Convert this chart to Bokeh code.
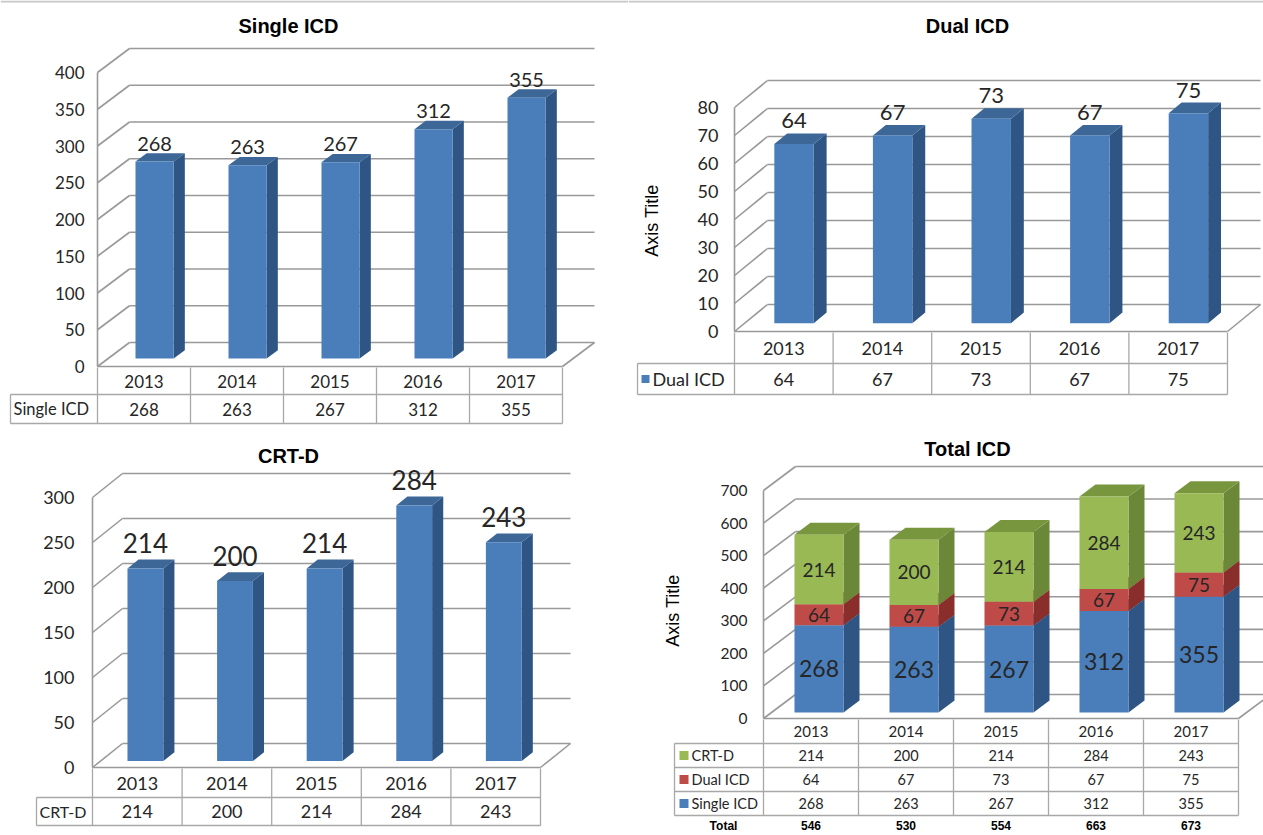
import math
from bokeh.plotting import figure
from bokeh.layouts import column, row
from bokeh.models import Range1d
from bokeh.core.properties import value
from bokeh.embed import file_html
from bokeh.resources import INLINE

# ---- data -------------------------------------------------------------
years = ["2013", "2014", "2015", "2016", "2017"]
single_icd = [268, 263, 267, 312, 355]
dual_icd = [64, 67, 73, 67, 75]
crt_d = [214, 200, 214, 284, 243]
total_icd = [s + d + c for s, d, c in zip(single_icd, dual_icd, crt_d)]

single_ticks = [0, 50, 100, 150, 200, 250, 300, 350, 400]
dual_ticks = [0, 10, 20, 30, 40, 50, 60, 70, 80]
crt_ticks = [0, 50, 100, 150, 200, 250, 300]
total_ticks = [0, 100, 200, 300, 400, 500, 600, 700]

# ---- styling ----------------------------------------------------------
BLUE = dict(front="#4A7EBB", side="#2E5583", top="#3C6797")
RED = dict(front="#BE4B48", side="#8A2E2C", top="#9A3A37")
GREEN = dict(front="#98B954", side="#6A8838", top="#78963E")
GRID = "#999999"
TABLE = "#A8A8A8"
INK = "#262626"
SANS = value("Lato")
ARIAL = value("Liberation Sans")


class Panel:
    """One 3-D column chart with its data table underneath.

    Page pixels are turned into data units: x in category steps, y in values.
    """

    def __init__(self, ox, oy, w, h, left, col_w, zero, ppu, dx, dy, n=5):
        self.ox, self.oy, self.w, self.h = ox, oy, w, h
        self.col_w, self.zero, self.ppu = col_w, zero, ppu
        self.col0 = left + col_w / 2.0
        self.n = n
        self.ddx = dx / col_w
        self.ddy = dy / ppu
        self.xl, self.xr = -0.5, n - 0.5
        self.p = figure(
            width=w, height=h,
            x_range=Range1d(self.X(ox), self.X(ox + w)),
            y_range=Range1d(self.Y(oy + h), self.Y(oy)),
            output_backend="svg", toolbar_location=None,
            x_axis_type=None, y_axis_type=None,
            min_border=0, outline_line_color=None,
            background_fill_color="white", border_fill_color="white",
        )
        self.p.xgrid.visible = False
        self.p.ygrid.visible = False

    def X(self, px):
        return (px - self.col0) / self.col_w

    def Y(self, py):
        return (self.zero - py) / self.ppu

    # -- walls, gridlines and floor
    def walls(self, ticks):
        p, xl, xr, ddx, ddy = self.p, self.xl, self.xr, self.ddx, self.ddy
        k = len(ticks)
        p.segment(x0=[xl + ddx] * k, y0=[t + ddy for t in ticks],
                  x1=[xr + ddx] * k, y1=[t + ddy for t in ticks],
                  line_color=GRID, line_width=1.6)
        p.segment(x0=[xl] * k, y0=ticks, x1=[xl + ddx] * k,
                  y1=[t + ddy for t in ticks], line_color=GRID, line_width=1.6)
        p.segment(x0=[xl], y0=[0], x1=[xl], y1=[ticks[-1]],
                  line_color=GRID, line_width=1.6)
        p.segment(x0=[xl, xr], y0=[0, 0], x1=[xr, xr + ddx], y1=[0, ddy],
                  line_color=GRID, line_width=1.6)

    def tick_labels(self, ticks, size, gap):
        self.p.text(x=[self.xl] * len(ticks), y=ticks, text=[str(t) for t in ticks],
                    x_offset=-gap, text_align="right", text_baseline="middle",
                    text_font=SANS, text_font_size=f"{size}px", text_color=INK)

    # -- 3-D columns: front face, side face and top face
    def columns(self, values, bases, colors, d0, d1, bw):
        ddx, ddy = self.ddx, self.ddy
        xs = list(range(len(values)))
        cx = [i + d0 * ddx for i in xs]
        lo = [b + d0 * ddy for b in bases]
        hi = [b + v + d0 * ddy for b, v in zip(bases, values)]
        sx = (d1 - d0) * ddx
        sy = (d1 - d0) * ddy
        side_x, side_y, top_x, top_y = [], [], [], []
        for c, a, b in zip(cx, lo, hi):
            r = c + bw / 2
            l = c - bw / 2
            side_x.append([r, r + sx, r + sx, r])
            side_y.append([a, a + sy, b + sy, b])
            top_x.append([l, r, r + sx, l + sx])
            top_y.append([b, b, b + sy, b + sy])
        self.p.patches(side_x, side_y, fill_color=colors["side"], line_color=None)
        self.p.patches(top_x, top_y, fill_color=colors["top"], line_color=None)
        self.p.vbar(x=cx, width=bw, bottom=lo, top=hi,
                    fill_color=colors["front"], line_color=None)
        return cx, lo, hi

    # -- data table below the floor
    def table(self, rows_px, label_left, labels, rows, label_size, val_size,
              head_size, keys=None, key_px=None, label_pad=4):
        p = self.p
        xl, xr = self.xl, self.xr
        ys = [self.Y(v) for v in rows_px]
        top, head, bottom = ys[0], ys[1], ys[-1]
        lx = self.X(label_left)
        edges = [xl + i for i in range(self.n + 1)]
        p.segment(x0=edges, y0=[top] * len(edges), x1=edges, y1=[bottom] * len(edges),
                  line_color=TABLE, line_width=1.3)
        p.segment(x0=[lx], y0=[head], x1=[lx], y1=[bottom],
                  line_color=TABLE, line_width=1.3)
        hy = ys[1:]
        p.segment(x0=[lx] * len(hy), y0=hy, x1=[xr] * len(hy), y1=hy,
                  line_color=TABLE, line_width=1.3)
        xs = list(range(self.n))
        p.text(x=xs, y=[(top + head) / 2] * self.n, text=years,
               text_align="center", text_baseline="middle", text_font=SANS,
               text_font_size=f"{head_size}px", text_color=INK)
        for r, (lab, vals) in enumerate(zip(labels, rows)):
            yc = (ys[r + 1] + ys[r + 2]) / 2
            p.text(x=xs, y=[yc] * self.n, text=[str(v) for v in vals],
                   text_align="center", text_baseline="middle", text_font=SANS,
                   text_font_size=f"{val_size}px", text_color=INK)
            tx = label_left + label_pad
            if keys is not None:
                k0, k1 = key_px
                half = (k1 - k0) / 2.0
                pyc = (rows_px[r + 1] + rows_px[r + 2]) / 2.0
                p.quad(left=[self.X(k0)], right=[self.X(k1)],
                       bottom=[self.Y(pyc + half)], top=[self.Y(pyc - half)],
                       fill_color=keys[r], line_color=None)
                tx = k1 + 3
            p.text(x=[self.X(tx)], y=[yc], text=[lab], text_align="left",
                   text_baseline="middle", text_font=SANS,
                   text_font_size=f"{label_size}px", text_color=INK)

    def title(self, txt, px, py, size=20):
        self.p.text(x=[self.X(px)], y=[self.Y(py)], text=[txt], text_align="center",
                    text_baseline="middle", text_font=ARIAL, text_font_style="bold",
                    text_font_size=f"{size}px", text_color="black")

    def axis_title(self, txt, px, py, size=18):
        self.p.text(x=[self.X(px)], y=[self.Y(py)], text=[txt], text_align="center",
                    text_baseline="middle", angle=math.pi / 2, text_font=ARIAL,
                    text_font_size=f"{size}px", text_color="black")

    def top_rule(self):
        self.p.segment(x0=[self.X(self.ox)], y0=[self.Y(1)],
                       x1=[self.X(self.ox + self.w)], y1=[self.Y(1)],
                       line_color="#C8C8C8", line_width=2)


def single_panel(pan, vals, ticks, colors, tick_size, tick_gap, lab_size, lab_gap,
                 d0, d1, bw):
    pan.walls(ticks)
    pan.tick_labels(ticks, tick_size, tick_gap)
    cx, lo, hi = pan.columns(vals, [0] * len(vals), colors, d0, d1, bw)
    pan.p.text(x=cx, y=hi, text=[str(v) for v in vals], y_offset=-lab_gap,
               text_align="center", text_baseline="middle", text_font=SANS,
               text_font_size=f"{lab_size}px", text_color=INK)


# ---- Single ICD -------------------------------------------------------
p1 = Panel(0, 0, 628, 430, left=97, col_w=93, zero=366, ppu=(366 - 72) / 400,
           dx=32, dy=24)
p1.top_rule()
single_panel(p1, single_icd, single_ticks, BLUE, 17, 13, 20, 18, 0.33, 0.68, 0.41)
p1.table([367, 394, 423], 10, ["Single ICD"], [single_icd], 16.5, 17, 17,
         label_pad=3)
p1.title("Single ICD", 288, 25)

# ---- Dual ICD ---------------------------------------------------------
p2 = Panel(628, 0, 635, 430, left=734, col_w=98.6, zero=331, ppu=2.8, dx=33, dy=27)
p2.top_rule()
single_panel(p2, dual_icd, dual_ticks, BLUE, 18, 16, 22, 23, 0.31, 0.70, 0.40)
p2.table([332, 363, 394], 637, ["Dual ICD"], [dual_icd], 18, 18, 18,
         keys=[BLUE["front"]], key_px=(641, 649))
p2.title("Dual ICD", 967, 25)
p2.axis_title("Axis Title", 651, 220)

# ---- CRT-D ------------------------------------------------------------
p3 = Panel(0, 430, 628, 405, left=92, col_w=89.6, zero=767, ppu=0.9, dx=30, dy=24)
single_panel(p3, crt_d, crt_ticks, BLUE, 18, 18, 26, 25, 0.27, 0.64, 0.40)
p3.table([768, 797, 825], 36, ["CRT-D"], [crt_d], 16, 18, 18, label_pad=3)
p3.title("CRT-D", 288, 455)

# ---- Total ICD (stacked) ----------------------------------------------
p4 = Panel(628, 430, 635, 405, left=763, col_w=95, zero=718, ppu=228 / 700,
           dx=32, dy=24)
p4.walls(total_ticks)
p4.tick_labels(total_ticks, 15.5, 16)
base = [0] * 5
stack = [(single_icd, BLUE, 23), (dual_icd, RED, 19), (crt_d, GREEN, 19)]
for vals, colors, size in stack:
    cx, lo, hi = p4.columns(vals, base, colors, 0.25, 0.75, 0.516)
    p4.p.text(x=cx, y=[(a + b) / 2 for a, b in zip(lo, hi)], text=[str(v) for v in vals],
              text_align="center", text_baseline="middle", text_font=SANS,
              text_font_size=f"{size}px", text_color=INK)
    base = [b + v for b, v in zip(base, vals)]
p4.table([719, 743, 767, 791, 815], 674, ["CRT-D", "Dual ICD", "Single ICD"],
         [crt_d, dual_icd, single_icd], 14.5, 14.5, 15,
         keys=[GREEN["front"], RED["front"], BLUE["front"]], key_px=(679, 688))
p4.p.text(x=[p4.X(723)] + list(range(5)), y=[p4.Y(825)] * 6,
          text=["Total"] + [str(t) for t in total_icd], text_align="center",
          text_baseline="middle", text_font=ARIAL, text_font_style="bold",
          text_font_size="12px", text_color="black")
p4.title("Total ICD", 967, 448)
p4.axis_title("Axis Title", 672, 610)

layout = column(row(p1.p, p2.p), row(p3.p, p4.p))
open("out.html", "w").write(file_html(layout, INLINE, "ICD implants 2013-2017"))
